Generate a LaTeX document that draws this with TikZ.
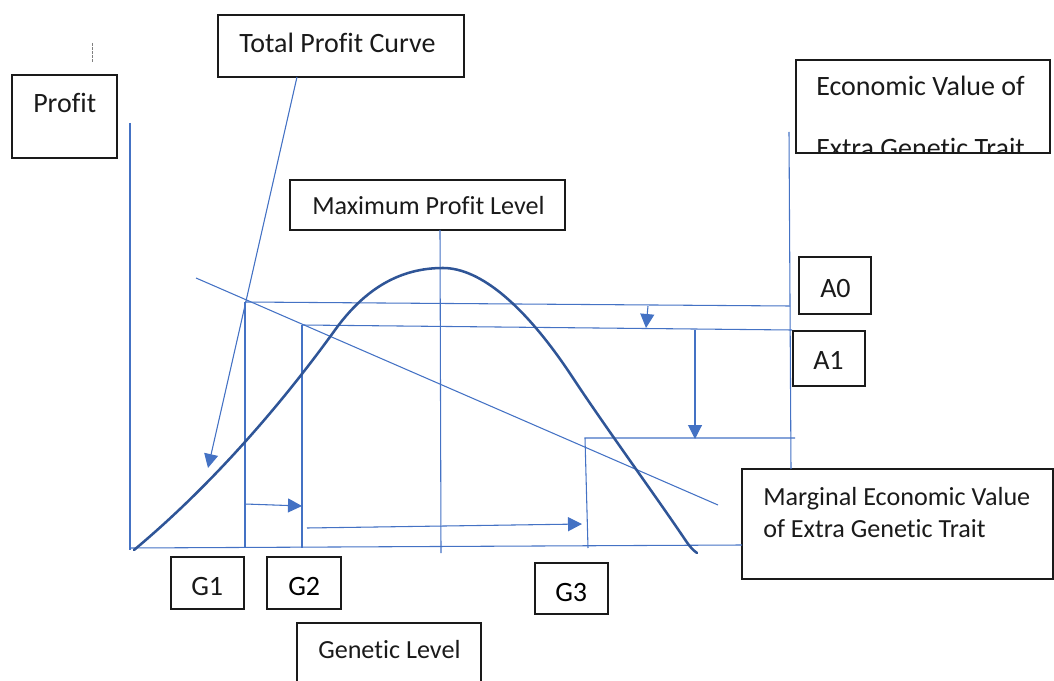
\documentclass[tikz,border=0pt]{standalone}
\usepackage{fontspec}
\setmainfont{Carlito}[Ligatures=NoCommon]
\usetikzlibrary{arrows.meta,fit}
\definecolor{axblue}{HTML}{4472C4}
\definecolor{curveblue}{HTML}{2F5597}
\definecolor{txt}{HTML}{1A1A1A}
\begin{document}
\begin{tikzpicture}[x=0.75pt,y=-0.75pt,
  box/.style={draw=txt,line width=1.1pt,inner sep=0pt},
  bline/.style={draw=axblue,line width=0.8pt},
  barrow/.style={bline,-{Triangle[length=10.5pt,width=10.5pt]},fill=axblue},
  big/.style={text=txt,font=\fontsize{21}{25}\selectfont,inner sep=0pt,anchor=base west},
  small/.style={text=txt,font=\fontsize{19.6}{24}\selectfont,inner sep=0pt,anchor=base west},
  curve/.style={draw=curveblue,line width=1.9pt,line cap=round}]
\useasboundingbox (0,0) rectangle (1054,681);
\clip (0,0) rectangle (1054,681);

% boxes
\node[box,fit={(12,75)(117,158)}] (profit) {};
\node[box,fit={(218,15)(464,77)}] (tpc) {};
\node[box,fit={(796,60)(1050,153)}] (ev) {};
\node[box,fit={(290,180)(565,230)}] (mpl) {};
\node[box,fit={(799,257)(871,314)}] (a0) {};
\node[box,fit={(793,331)(865,386)}] (a1) {};
\node[box,fit={(742,469)(1053,579)}] (mev) {};
\node[box,fit={(171,557)(244,609)}] (g1) {};
\node[box,fit={(267,557)(341,609)}] (g2) {};
\node[box,fit={(535,563)(608,614)}] (g3) {};
\node[box,fit={(297,623)(481,700)}] (gl) {};

% texts
\node[big] (tprofit) at (33,113) {Profit};
\node[big] (ttpc) at (239,53) {Total Profit Curve};
\begin{scope}
  \clip (796,60) rectangle (1050,152);
  \node[big] (tev1) at (816,96) {Economic Value of};
  \node[big] (tev2) at (816,158) {Extra Genetic Trait};
\end{scope}
\node[small] (tmpl) at (312,215) {Maximum Profit Level};
\node[big] (ta0) at (820,297) {A0};
\node[big] (ta1) at (813,369) {A1};
\node[small] (tmev1) at (763,505) {Marginal Economic Value};
\node[small] (tmev2) at (763,537) {of Extra Genetic Trait};
\node[big] (tg1) at (191,595) {G1};
\node[big,text=black] (tg2) at (288,595) {G2};
\node[big,text=black] (tg3) at (555,601) {G3};
\node[small] (tgl) at (318,658) {Genetic Level};

% small dashed mark
\coordinate (dm1) at (92,43);
\coordinate (dm2) at (92,62);
\draw[gray,line width=0.6pt,dash pattern=on 2pt off 1pt] (dm1) -- (dm2);

% coordinates
\coordinate (yT) at (130,123);
\coordinate (yB) at (130,550);
\coordinate (xL) at (130,548);
\coordinate (xR) at (742,545);
\coordinate (rT) at (789,132);
\coordinate (rB) at (791,469);
\coordinate (mT) at (440,230);
\coordinate (mB) at (441,553);
\coordinate (a0L) at (245,302);
\coordinate (a0R) at (790,306);
\coordinate (a1L) at (302,325);
\coordinate (a1R) at (792,330);
\coordinate (g1B) at (245,548);
\coordinate (g2B) at (302,548);
\coordinate (g3T) at (585,438);
\coordinate (g3B) at (588,548);
\coordinate (g3R) at (795,438);
\coordinate (d1) at (196,278);
\coordinate (d2) at (718,505);
\coordinate (tpcS) at (297,77);
\coordinate (tpcE) at (208,468);
\coordinate (s1s) at (648,306);
\coordinate (s1e) at (646,328);
\coordinate (s2s) at (695,330);
\coordinate (s2e) at (695,439);
\coordinate (h1s) at (245,504);
\coordinate (h1e) at (302,506);
\coordinate (h2s) at (307,528);
\coordinate (h2e) at (582,524);

% lines
\draw[bline] (yT) -- (yB);
\draw[bline] (xL) -- (xR);
\draw[bline] (rT) -- (rB);
\draw[bline] (mT) -- (mB);
\draw[bline] (a0L) -- (a0R);
\draw[bline] (a1L) -- (a1R);
\draw[bline] (a0L) -- (g1B);
\draw[bline] (a1L) -- (g2B);
\draw[bline] (g3R) -- (g3T) -- (g3B);
\draw[bline] (d1) -- (d2);

% arrows
\draw[barrow] (tpcS) -- (tpcE);
\draw[barrow] (s1s) -- (s1e);
\draw[barrow] (s2s) -- (s2e);
\draw[barrow] (h1s) -- (h1e);
\draw[barrow] (h2s) -- (h2e);

% profit curve
\draw[curve] (134,550) .. controls (200,495) and (270,420) .. (335,330)
  .. controls (365,288.5) and (400,268) .. (443,268)
  .. controls (480,268) and (525,305) .. (573,378)
  .. controls (606,428) and (655,495) .. (686,541)
  .. controls (690,547) and (693,550) .. (697,553);
\end{tikzpicture}
\end{document}
